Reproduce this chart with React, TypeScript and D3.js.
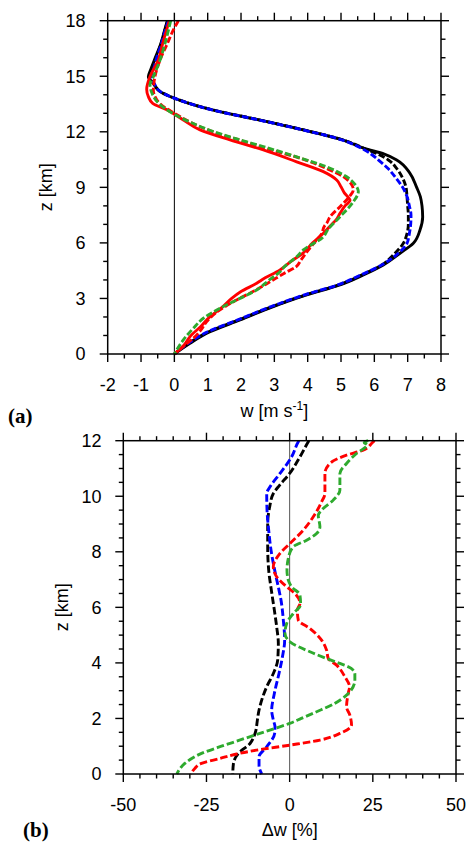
import React from "react";
import * as d3 from "d3";

// ---------- Panel (a): vertical velocity w [m s-1] vs z [km] ----------
const topBlackSolid: [number, number][] = [
  [0, 0], [0.58, 0.47], [1.2, 1.07], [1.84, 1.97], [2.56, 2.97], [3.19, 3.97], [3.73, 4.97],
  [4.27, 5.67], [4.81, 6.27], [5.44, 6.77], [5.98, 7.17], [6.7, 7.37], [7.4, 7.45], [8.0, 7.43],
  [8.5, 7.38], [9.0, 7.27], [9.76, 7.07], [10.48, 6.67], [10.8, 6.3], [11.1, 5.7], [11.55, 5.07],
  [12.1, 3.87], [12.63, 2.57], [13.17, 1.17], [13.7, 0.17], [14.17, -0.43], [14.6, -0.63],
  [14.97, -0.78], [15.4, -0.7], [15.87, -0.6], [16.8, -0.4], [17.5, -0.29], [18, -0.21],
];
const topBlackDashed: [number, number][] = [
  [0, 0], [0.58, 0.44], [1.2, 1.03], [1.84, 1.93], [2.56, 2.93], [3.19, 3.93], [3.73, 4.93],
  [4.27, 5.63], [4.81, 6.22], [5.44, 6.62], [5.98, 6.87], [6.5, 6.98], [7.0, 7.02], [7.5, 7.02],
  [8.0, 7.0], [8.5, 6.98], [9.0, 6.95], [9.5, 6.85], [10.0, 6.68], [10.48, 6.42], [10.8, 6.1],
  [11.1, 5.7], [11.55, 5.08], [12.1, 3.88], [12.63, 2.58], [13.17, 1.18], [13.7, 0.18],
  [14.17, -0.42], [14.6, -0.62], [14.97, -0.76], [15.4, -0.68], [15.87, -0.58], [16.8, -0.39],
  [17.5, -0.28], [18, -0.2],
];
const topBlueDashed: [number, number][] = [
  [0, 0], [0.58, 0.42], [1.2, 1.0], [1.84, 1.9], [2.56, 2.9], [3.19, 3.9], [3.73, 4.9],
  [4.27, 5.6], [4.81, 6.22], [5.44, 6.72], [5.98, 6.98], [6.5, 7.05], [7.0, 7.09], [7.5, 7.1],
  [8.0, 7.05], [8.5, 6.98], [9.0, 6.85], [9.5, 6.65], [10.0, 6.42], [10.48, 6.12], [10.8, 5.9],
  [11.1, 5.62], [11.55, 5.05], [12.1, 3.86], [12.63, 2.56], [13.17, 1.16], [13.7, 0.17],
  [14.17, -0.42], [14.6, -0.6], [14.97, -0.7], [15.4, -0.62], [15.87, -0.55], [16.8, -0.38],
  [17.5, -0.27], [18, -0.18],
];
const topRedSolid: [number, number][] = [
  [0, 0], [0.5, 0.3], [0.94, 0.47], [1.5, 0.8], [2.02, 1.07], [2.5, 1.42], [3.0, 1.72],
  [3.37, 2.0], [3.82, 2.47], [4.0, 2.62], [4.54, 3.17], [5.0, 3.5], [5.44, 3.85], [6.0, 4.15],
  [6.52, 4.47], [7.0, 4.72], [7.24, 4.85], [7.6, 4.97], [8.0, 5.12], [8.3, 5.27], [8.7, 5.1],
  [9.03, 5.0], [9.4, 4.87], [9.85, 4.47], [10.38, 3.67], [11.02, 2.67], [11.56, 1.67],
  [12.1, 0.77], [12.64, 0.27], [13.2, -0.23], [13.54, -0.65], [13.9, -0.78], [14.3, -0.83],
  [14.98, -0.73], [15.87, -0.48], [16.77, -0.35], [18, -0.15],
];
const topRedDashed: [number, number][] = [
  [0, 0], [0.5, 0.33], [0.85, 0.57], [1.3, 0.8], [1.75, 0.97], [2.3, 1.3], [2.92, 1.87],
  [3.46, 2.45], [3.9, 2.87], [4.36, 3.3], [4.71, 3.65], [5.08, 3.8], [5.5, 3.97], [6.16, 4.27],
  [6.5, 4.42], [6.9, 4.5], [7.06, 4.57], [7.41, 4.67], [7.95, 4.97], [8.5, 5.25], [8.86, 5.37],
  [9.2, 5.3], [9.6, 5.05], [10.03, 4.55], [10.5, 3.9], [11.1, 2.75], [11.5, 2.05], [12.0, 1.15],
  [12.5, 0.5], [13.0, 0.0], [13.5, -0.42], [13.9, -0.58], [14.25, -0.63], [15.0, -0.58],
  [15.87, -0.43], [16.77, -0.21], [17.5, -0.03], [18, 0.12],
];
const topGreenDashed: [number, number][] = [
  [0, 0], [0.76, 0.27], [1.39, 0.57], [1.93, 0.87], [2.47, 1.37], [2.92, 1.87], [3.46, 2.47],
  [4.0, 2.85], [4.44, 3.17], [4.71, 3.3], [5.25, 3.67], [5.62, 3.87], [6.33, 4.47], [6.7, 4.6],
  [7.41, 4.97], [8.22, 5.37], [8.77, 5.52], [9.2, 5.4], [9.57, 5.17], [10.03, 4.67],
  [10.65, 3.67], [11.2, 2.67], [11.6, 1.9], [12.0, 1.2], [12.5, 0.5], [13.0, -0.05],
  [13.5, -0.45], [14.0, -0.65], [14.55, -0.73], [14.98, -0.63], [15.87, -0.43], [16.77, -0.28],
  [18, -0.11],
];

// ---------- Panel (b): Δw [%] vs z [km] ----------
const botBlack: [number, number][] = [
  [0, -17.1], [0.38, -16.9], [0.74, -15.4], [1.1, -11.9], [1.46, -10.4], [1.94, -9.7],
  [2.18, -9.4], [2.66, -8.4], [3.14, -6.9], [3.62, -4.9], [4.1, -3.6], [4.7, -3.4], [5.3, -3.9],
  [5.9, -4.6], [6.62, -5.5], [7.34, -6.3], [8.18, -6.6], [9.02, -6.6], [9.62, -6.0],
  [10.1, -4.9], [10.4, -3.0], [10.82, 0.0], [11.42, 3.1], [11.96, 5.6], [12, 5.8],
];
const botBlue: [number, number][] = [
  [0, -8.4], [0.3, -9.2], [0.62, -9.2], [0.98, -6.9], [1.46, -4.5], [1.7, -4.4], [1.94, -4.9],
  [2.3, -5.4], [2.9, -4.6], [3.62, -3.2], [4.2, -2.2], [4.82, -1.5], [5.54, -1.9], [6.26, -2.6],
  [6.62, -3.2], [7.34, -4.5], [8.06, -5.6], [8.78, -6.3], [9.5, -6.8], [10.1, -6.9],
  [10.34, -5.9], [10.82, -2.9], [11.42, 0.6], [11.96, 2.6], [12, 2.8],
];
const botRed: [number, number][] = [
  [0, -29.7], [0.2, -28.5], [0.38, -26.5], [0.56, -20.9], [0.72, -15.9], [0.86, -9.9],
  [1.04, 0.1], [1.22, 9.1], [1.46, 15.1], [1.76, 18.6], [2.12, 18.1], [2.42, 17.1], [2.9, 17.6],
  [3.14, 18.0], [3.5, 16.6], [3.92, 14.1], [4.16, 11.6], [4.46, 11.1], [4.82, 9.6], [5.24, 6.1],
  [5.54, 2.6], [5.9, 2.3], [6.14, 3.1], [6.5, 1.6], [6.74, -0.9], [7.1, -3.9], [7.46, -4.9],
  [7.94, -2.9], [8.3, 0.1], [8.78, 4.1], [9.26, 7.1], [9.8, 9.6], [10.1, 10.6], [10.82, 10.6],
  [11.18, 12.1], [11.48, 17.1], [11.66, 22.1], [11.96, 25.1], [12, 25.5],
];
const botGreen: [number, number][] = [
  [0, -33.9], [0.38, -31.5], [0.74, -26.5], [1.0, -20.5], [1.2, -15.5], [1.4, -10.5],
  [1.6, -5.5], [1.82, 0], [2.0, 3.5], [2.24, 8.1], [2.54, 13.5], [2.84, 17.1], [3.38, 19.6],
  [3.6, 19.6], [3.8, 18.5], [3.98, 15.1], [4.16, 11.1], [4.4, 6.1], [4.76, 0.1], [5.06, -1.4],
  [5.42, -0.9], [5.78, 1.1], [6.1, 3.3], [6.44, 3.1], [6.74, 0.6], [6.98, -0.4], [7.34, -0.8],
  [7.82, -0.3], [8.18, 1.1], [8.42, 5.1], [8.66, 8.1], [8.9, 9.1], [9.32, 8.6], [9.5, 9.6],
  [9.86, 13.1], [10.22, 15.1], [10.82, 15.1], [11.18, 17.1], [11.54, 20.1], [11.85, 23.3],
  [11.93, 22.4], [12, 23.6],
];

// tick values
const topXTicks = [-2, -1, 0, 1, 2, 3, 4, 5, 6, 7, 8];
const topYTicks = [0, 3, 6, 9, 12, 15, 18];
const botXTicks = [-50, -25, 0, 25, 50];
const botYTicks = [0, 2, 4, 6, 8, 10, 12];

const GREEN = "#2eaa2e";
const FONT = "'Liberation Sans', Arial, Helvetica, sans-serif";

type Series = { data: [number, number][]; color: string; dashed: boolean };

const topSeries: Series[] = [
  { data: topBlackSolid, color: "#000", dashed: false },
  { data: topBlackDashed, color: "#000", dashed: true },
  { data: topBlueDashed, color: "#0000ff", dashed: true },
  { data: topRedSolid, color: "#ff0000", dashed: false },
  { data: topRedDashed, color: "#ff0000", dashed: true },
  { data: topGreenDashed, color: GREEN, dashed: true },
];
const botSeries: Series[] = [
  { data: botBlack, color: "#000", dashed: true },
  { data: botBlue, color: "#0000ff", dashed: true },
  { data: botRed, color: "#ff0000", dashed: true },
  { data: botGreen, color: GREEN, dashed: true },
];

function Panel(props: {
  left: number; right: number; top: number; bottom: number;
  xDomain: [number, number]; yDomain: [number, number];
  xTicks: number[]; yTicks: number[]; xMinorStep: number; yMinorStep: number;
  series: Series[]; dash: string; zeroColor: string;
  yLabelX: number; xLabelY: number; yTitleX: number;
  xTitle: React.ReactNode; xTitleY: number;
}) {
  const p = props;
  const x = d3.scaleLinear().domain(p.xDomain).range([p.left, p.right]);
  const y = d3.scaleLinear().domain(p.yDomain).range([p.bottom, p.top]);
  const xMinor = d3.range(p.xDomain[0], p.xDomain[1] + 1e-9, p.xMinorStep);
  const yMinor = d3.range(p.yDomain[0], p.yDomain[1] + 1e-9, p.yMinorStep);
  const isMajor = (v: number, ticks: number[]) => ticks.some((t) => Math.abs(t - v) < 1e-6);
  const MAJ = 8, MIN = 4.5;
  const line = d3
    .line<[number, number]>()
    .x((d) => x(d[1]))
    .y((d) => y(d[0]))
    .curve(d3.curveMonotoneY);
  const ticks: JSX.Element[] = [];
  xMinor.forEach((v, i) => {
    const L = isMajor(v, p.xTicks) ? MAJ : MIN;
    const xx = x(v);
    ticks.push(<line key={"xb" + i} x1={xx} x2={xx} y1={p.bottom} y2={p.bottom + L} />);
    ticks.push(<line key={"xt" + i} x1={xx} x2={xx} y1={p.top} y2={p.top - L} />);
  });
  yMinor.forEach((v, i) => {
    const L = isMajor(v, p.yTicks) ? MAJ : MIN;
    const yy = y(v);
    ticks.push(<line key={"yl" + i} x1={p.left} x2={p.left - L} y1={yy} y2={yy} />);
    ticks.push(<line key={"yr" + i} x1={p.right} x2={p.right + L} y1={yy} y2={yy} />);
  });
  const cy = (p.top + p.bottom) / 2;
  return (
    <g>
      <line x1={x(0)} x2={x(0)} y1={p.top} y2={p.bottom} stroke={p.zeroColor} strokeWidth={1} />
      {p.series.map((s, i) => (
        <path
          key={i}
          d={line([...s.data].reverse()) || ""}
          fill="none"
          stroke={s.color}
          strokeWidth={2.9}
          strokeDasharray={s.dashed ? p.dash : undefined}
          strokeLinejoin="round"
        />
      ))}
      <rect x={p.left} y={p.top} width={p.right - p.left} height={p.bottom - p.top} fill="none" stroke="#000" strokeWidth={1.5} />
      <g stroke="#000" strokeWidth={1.4}>{ticks}</g>
      <g fontFamily={FONT} fontSize={18} fill="#000">
        {p.xTicks.map((t) => (
          <text key={"xl" + t} x={x(t)} y={p.xLabelY} textAnchor="middle">{t}</text>
        ))}
        {p.yTicks.map((t) => (
          <text key={"yl" + t} x={p.yLabelX} y={y(t)} dy="0.36em" textAnchor="end">{t}</text>
        ))}
        <text x={(p.left + p.right) / 2} y={p.xTitleY} textAnchor="middle">{p.xTitle}</text>
        <text transform={`translate(${p.yTitleX},${cy}) rotate(-90)`} textAnchor="middle">z [km]</text>
      </g>
    </g>
  );
}

export default function App() {
  return (
    <svg width={468} height={845} style={{ position: "absolute", left: 0, top: 0, background: "#fff" }}>
      <rect x={0} y={0} width={468} height={845} fill="#fff" />
      <Panel
        left={107.7} right={441} top={20.7} bottom={354}
        xDomain={[-2, 8]} yDomain={[0, 18]}
        xTicks={topXTicks} yTicks={topYTicks} xMinorStep={0.5} yMinorStep={1}
        series={topSeries} dash="6.5 2.5" zeroColor="#000"
        yLabelX={85.5} xLabelY={390.5} yTitleX={52}
        xTitle={<>w [m s<tspan dy="-7" fontSize={12}>-1</tspan><tspan dy="7">]</tspan></>}
        xTitleY={417}
      />
      <Panel
        left={123.3} right={456} top={440.7} bottom={774}
        xDomain={[-50, 50]} yDomain={[0, 12]}
        xTicks={botXTicks} yTicks={botYTicks} xMinorStep={5} yMinorStep={0.5}
        series={botSeries} dash="7.5 3" zeroColor="#555"
        yLabelX={101.5} xLabelY={810.5} yTitleX={68}
        xTitle={"Δw [%]"} xTitleY={836}
      />
      <text x={8} y={423} fontFamily="'Liberation Serif', 'Times New Roman', serif" fontWeight="bold" fontSize={21}>(a)</text>
      <text x={23} y={837} fontFamily="'Liberation Serif', 'Times New Roman', serif" fontWeight="bold" fontSize={21}>(b)</text>
    </svg>
  );
}
